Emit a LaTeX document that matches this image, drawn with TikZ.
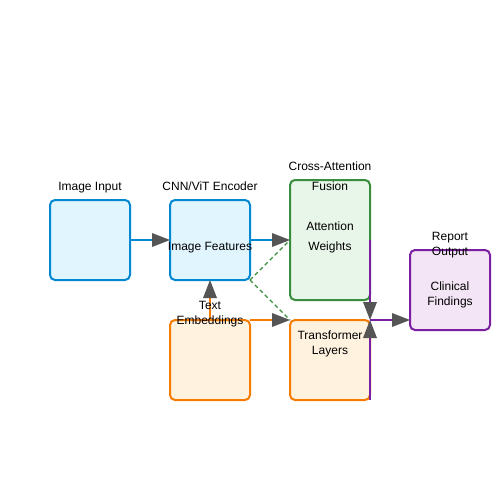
\documentclass[tikz,border=0pt]{standalone}
\usepackage{fontspec}
\setmainfont{Liberation Sans}
\usetikzlibrary{arrows.meta}
\definecolor{bstroke}{HTML}{0288D1}
\definecolor{bfill}{HTML}{E1F5FE}
\definecolor{gstroke}{HTML}{388E3C}
\definecolor{gfill}{HTML}{E8F5E9}
\definecolor{ostroke}{HTML}{F57C00}
\definecolor{ofill}{HTML}{FFF3E0}
\definecolor{pstroke}{HTML}{7B1FA2}
\definecolor{pfill}{HTML}{F3E5F5}
\definecolor{tipgray}{HTML}{555555}
\begin{document}
\begin{tikzpicture}[x=1pt,y=-1pt,
  box/.style={draw, rectangle, rounded corners=5pt, line width=2pt, inner sep=0pt, outer sep=0pt, minimum width=80pt, minimum height=80pt},
  bluebox/.style={box, draw=bstroke, fill=bfill},
  greenbox/.style={box, draw=gstroke, fill=gfill},
  orangebox/.style={box, draw=ostroke, fill=ofill},
  purplebox/.style={box, draw=pstroke, fill=pfill},
  lbl/.style={anchor=base, inner sep=0pt, font=\fontsize{12}{14}\selectfont},
  conn/.style={line width=2pt, -{Triangle[length=18pt,width=14pt,color=tipgray,fill=tipgray,line width=0pt]}},
  dashedlink/.style={gstroke, line width=1.3pt, dash pattern=on 4pt off 3pt}
]
\useasboundingbox (0,0) rectangle (500,500);
\fill[white] (0,0) rectangle (500,500);

% boxes
\node[bluebox] (img) at (90,240) {};
\node[bluebox] (enc) at (210,240) {};
\node[orangebox] (txt) at (210,360) {};
\node[greenbox, minimum height=120pt] (cross) at (330,240) {};
\node[orangebox] (trans) at (330,360) {};
\node[purplebox] (rep) at (450,290) {};

% connectors
\draw[conn, draw=bstroke] (img.east) -- (enc.west);
\draw[conn, draw=bstroke] (enc.east) -- (cross.west);
\draw[conn, draw=ostroke] (txt.north) -- (enc.south);
\draw[conn, draw=ostroke] (txt.north east) -- (trans.north west);
\draw[dashedlink] (enc.south east) -- (cross.west);
\draw[dashedlink] (enc.south east) -- (trans.north west);
\coordinate (junc) at (trans.north east);
\draw[conn, draw=pstroke] (cross.east) -- (junc);
\draw[conn, draw=pstroke] (trans.south east) -- (junc);
\draw[conn, draw=pstroke] (junc) -- (rep.west |- junc);

% labels
\node[lbl] (limg) at (90,190) {Image Input};
\node[lbl] (lenc) at (210,190) {CNN/ViT Encoder};
\node[lbl] (lfeat) at (210,250) {Image Features};
\node[lbl] (lcross1) at (330,170) {Cross-Attention};
\node[lbl] (lcross2) at (330,190) {Fusion};
\node[lbl] (lattn1) at (330,230) {Attention};
\node[lbl] (lattn2) at (330,250) {Weights};
\node[lbl] (ltxt1) at (210,309) {Text};
\node[lbl] (ltxt2) at (210,324) {Embeddings};
\node[lbl] (ltr1) at (330,339) {Transformer};
\node[lbl] (ltr2) at (330,354) {Layers};
\node[lbl] (lrep1) at (450,240) {Report};
\node[lbl] (lrep2) at (450,255) {Output};
\node[lbl] (lcl1) at (450,290) {Clinical};
\node[lbl] (lcl2) at (450,305) {Findings};
\end{tikzpicture}
\end{document}
